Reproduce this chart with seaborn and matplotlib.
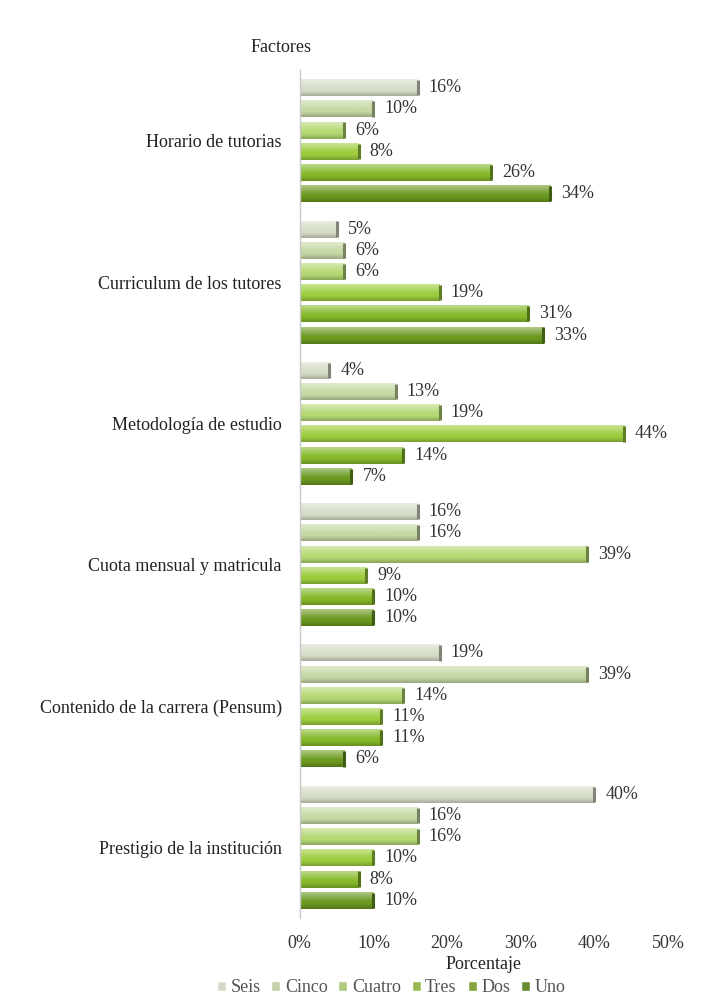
import numpy as np
import pandas as pd
import seaborn as sns
import matplotlib.pyplot as plt
from matplotlib.colors import to_rgb

# Factors evaluated and the share of answers for each ranking position
factores = [
    "Horario de tutorias",
    "Curriculum de los tutores",
    "Metodología de estudio",
    "Cuota mensual y matricula",
    "Contenido de la carrera (Pensum)",
    "Prestigio de la institución",
]
series = ["Seis", "Cinco", "Cuatro", "Tres", "Dos", "Uno"]
seis = [16, 5, 4, 16, 19, 40]
cinco = [10, 6, 13, 16, 39, 16]
cuatro = [6, 6, 19, 39, 14, 16]
tres = [8, 19, 44, 9, 11, 10]
dos = [26, 31, 14, 10, 11, 8]
uno = [34, 33, 7, 10, 6, 10]
xticks = [0, 10, 20, 30, 40, 50]

colores = ["#d6ddc6", "#c6d8a4", "#b4d873", "#9dcd3e", "#86b92a", "#6c9a20"]

valores = [seis, cinco, cuatro, tres, dos, uno]
df = pd.DataFrame(
    [(f, s, v) for s, vals in zip(series, valores) for f, v in zip(factores, vals)],
    columns=["Factor", "Serie", "Valor"],
)

sns.set_theme(style="white")
plt.rcParams["font.family"] = ["Liberation Serif", "DejaVu Serif"]
FS = 13

fig = plt.figure(figsize=(7.07, 10.01), dpi=100)
ax = fig.add_axes([0.424, 0.083, 0.521, 0.847])

sns.barplot(
    data=df, y="Factor", x="Valor", hue="Serie", order=factores,
    hue_order=series, palette=colores, orient="h", width=0.9, gap=0.2,
    ax=ax, legend=True,
)

ylim = ax.get_ylim()

# Shaded, bevelled look for each bar
def shade(base):
    r = np.array(to_rgb(base))
    n = 24
    t = np.linspace(0, 1, n)
    light = np.clip(1.0 - 1.8 * t, 0, 1) * 0.45
    dark = np.clip((t - 0.7) / 0.3, 0, 1) * 0.22
    rows = r * (1 - light[:, None]) + light[:, None] * 1.0
    rows = rows * (1 - dark[:, None])
    return rows[:, None, :]

for cont, col in zip(ax.containers, colores):
    grad = shade(col)
    for bar in cont:
        x0, y0 = bar.get_x(), bar.get_y()
        w, h = bar.get_width(), bar.get_height()
        im = ax.imshow(grad, extent=(x0, x0 + w, y0 + h, y0), origin="upper",
                       aspect="auto", zorder=bar.get_zorder() + 0.1,
                       interpolation="bilinear")
        im.set_clip_path(bar)
        # darker cap on the right end
        ax.plot([x0 + w, x0 + w], [y0 + 0.05 * h, y0 + 0.95 * h],
                color=np.array(to_rgb(col)) * 0.6, lw=2.2,
                zorder=bar.get_zorder() + 0.2, solid_capstyle="butt")
    ax.bar_label(cont, labels=[f"{v:.0f}%" for v in cont.datavalues],
                 padding=8, fontsize=FS, color="#333333")

ax.set_ylim(ylim)
ax.set_xlim(0, 50)
ax.set_xticks(xticks)
ax.set_xticklabels([f"{v}%" for v in xticks], fontsize=FS, color="#333333")
ax.tick_params(axis="y", length=0, pad=13, labelsize=FS, labelcolor="#222222")
ax.tick_params(axis="x", length=0, pad=12)
ax.set_ylabel("")
ax.set_xlabel("Porcentaje", fontsize=FS, color="#222222", labelpad=3)

for side in ["top", "right", "bottom"]:
    ax.spines[side].set_visible(False)
ax.spines["left"].set_color("#c8c8c8")
ax.spines["left"].set_linewidth(1.0)

fig.text(0.398, 0.953, "Factores", fontsize=FS, ha="center", va="center",
         color="#222222")

handles, labels = ax.get_legend_handles_labels()
ax.legend_.remove()
fig.legend(handles, labels, loc="lower center", bbox_to_anchor=(0.553, -0.008),
           ncol=6, frameon=False, fontsize=FS, handlelength=0.5,
           handleheight=0.5, handletextpad=0.25, columnspacing=0.6,
           labelcolor="#555555", borderpad=0.2)

fig.savefig("out.png", dpi=100, facecolor="white")
